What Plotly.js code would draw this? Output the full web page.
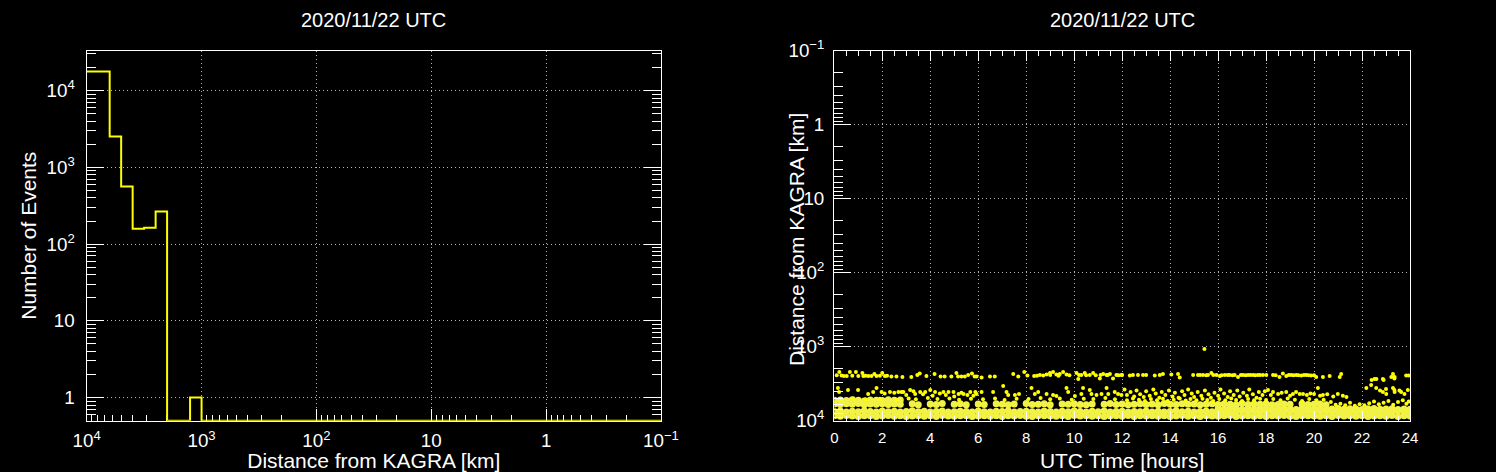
<!DOCTYPE html>
<html><head><meta charset="utf-8">
<script src="https://cdn.plot.ly/plotly-3.0.1.min.js"></script>
<style>html,body{margin:0;padding:0;background:#000;}#chart{width:1496px;height:472px;}</style>
</head><body><div id="chart"></div>
<script>
const titleText = '2020/11/22 UTC';
const histXTitle = 'Distance from KAGRA [km]';
const histYTitle = 'Number of Events';
const scatXTitle = 'UTC Time [hours]';
const scatYTitle = 'Distance from KAGRA [km]';

// ---- Histogram (left): bin edges in log10(km), counts per bin ----
const binEdgesLog10 = [4.0,3.9,3.8,3.7,3.6,3.5,3.4,3.3,3.2,3.1,3.0,2.9,2.8,2.7,2.6,2.5,2.4,2.3,2.2,2.1,2.0,
  1.9,1.8,1.7,1.6,1.5,1.4,1.3,1.2,1.1,1.0,0.9,0.8,0.7,0.6,0.5,0.4,0.3,0.2,0.1,0.0,
  -0.1,-0.2,-0.3,-0.4,-0.5,-0.6,-0.7,-0.8,-0.9,-1.0];
const binCounts = [17700,17700,2520,562,158,163,265,0,0,1,
  0,0,0,0,0,0,0,0,0,0,
  0,0,0,0,0,0,0,0,0,0,
  0,0,0,0,0,0,0,0,0,0,
  0,0,0,0,0,0,0,0,0,0];

// ---- Scatter (right): UTC hour vs distance [km] ----
const denseHours = [0,0.25,0.5,0.75,1,1.25,1.5,1.75,2,2.25,
  2.5,2.75,3,3.25,3.5,3.75,4,4.25,4.5,4.75,
  5,5.25,5.5,5.75,6,6.25,6.5,6.75,7,7.25,
  7.5,7.75,8,8.25,8.5,8.75,9,9.25,9.5,9.75,
  10,10.25,10.5,10.75,11,11.25,11.5,11.75,12,12.25,
  12.5,12.75,13,13.25,13.5,13.75,14,14.25,14.5,14.75,
  15,15.25,15.5,15.75,16,16.25,16.5,16.75,17,17.25,
  17.5,17.75,18,18.25,18.5,18.75,19,19.25,19.5,19.75,
  20,20.25,20.5,20.75,21,21.25,21.5,21.75,22,22.25,
  22.5,22.75,23,23.25,23.5,23.75,24];
const denseKmA = [8600,8700,8500,8650,8800,8550,8600,8750,8650,8500,
  8700,8600,8800,8650,8550,8700,8600,8750,8500,8650,
  8700,8600,8550,8800,8650,8600,8700,8550,8750,8600,
  8650,8500,8700,8800,8600,8550,8650,8700,8600,8750,
  8500,8650,8600,8700,8550,8800,8650,8600,8700,8500,
  8750,8600,8650,8550,8700,8600,8800,8650,8500,8700,
  8600,8750,8550,8650,8700,8600,8500,8800,8650,8600,
  8700,8550,8750,8600,8650,8500,8700,8800,8600,8550,
  8650,8700,8600,8750,8500,8650,8600,8700,8550,8800,
  8650,8600,8700,8500,8750,8600,8650];
const denseKmB = [7500,7400,7600,7450,7550,7350,7500,7650,7400,7550,
  7450,7600,7500,7350,7550,7450,7650,7500,7400,7600,
  7550,7450,7500,7600,7400,7550,7650,7450,7500,7350,
  7600,7500,7450,7550,7650,7400,7500,7600,7450,7550,
  7350,7500,7600,7450,7550,7400,7650,7500,7450,7600,
  7500,7550,7400,7600,7450,7650,7500,7350,7550,7450,
  7600,7500,7400,7550,7650,7450,7500,7600,7350,7550,
  7450,7600,7500,7400,7550,7650,7450,7500,7600,7400,
  7550,7500,7350,7600,7450,7550,7650,7500,7400,7600,
  7500,7450,7550,7600,7400,7500,7550];
const denseKmC = [5950,6050,5900,6000,5850,6100,5950,6000,5900,6050,
  5950,6000,null,5900,6100,null,5950,6050,5850,null,
  6000,5900,6100,null,5950,6050,null,5900,6000,6100,
  5950,null,5850,6050,6000,5900,6100,null,5950,6000,
  5900,6050,6100,5950,null,6000,5850,6050,5950,6100,
  6000,5900,6050,5950,6100,5850,6000,6050,5900,6000,
  5950,6100,6000,5900,6050,5950,6000,6100,5850,6050,
  5950,6000,5900,6100,6050,5950,6000,null,5900,6050,
  6000,5950,6100,null,null,null,null,null,null,null,
  null,null,null,null,null,null,null];
const gapRowHours = [16,16.25,16.5,16.75,17,17.25,17.5,17.75,18,18.25,18.5,18.75,19,19.25,19.5,19.75,
  20,20.25,20.5,20.75,21,21.25,21.5,21.75,22,22.25,22.5,22.75,23,23.25,23.5,23.75,24];
const gapRowKm = [6900,7000,6850,6950,7050,6900,7000,6950,6850,7050,6950,6900,7000,7050,6850,6950,
  7000,6900,7050,6950,6850,7000,6900,6950,7050,6900,6850,7000,6950,6900,7050,6950,7000];
const earlyRowHours = [0,0.25,0.5,0.75,1,1.25,1.5,1.75,2,2.25,2.5,2.75];
const earlyRowKm = [5300,5250,5350,5200,5300,5400,5250,5300,5350,5200,5300,5250];

const upperBand = [[0.1,2430],[0.21,2200],[0.3,2450],[0.4,2480],[0.52,2490],[0.65,2200],[0.75,2470],[0.9,2200],[1.0,2480],[1.17,2270],[1.21,2490],[1.3,2460],[1.42,2490],[1.55,2480],[1.67,2340],[1.76,2490],[1.9,2470],[2.0,2270],[2.11,2490],[2.2,2460],[2.38,2530],[2.59,2530],[2.84,2565],[3.21,2565],[3.46,2410],[3.56,2300],[3.84,2490],[4.18,2340],[4.43,2530],[4.6,2530],[4.88,2530],[5.09,2270],[5.16,2530],[5.3,2530],[5.44,2530],[5.58,2410],[5.74,2300],[5.85,2530],
  [5.93,2530],[6.14,2600],[6.49,2530],[6.69,2530],[7.46,2340],[7.67,2530],[7.92,2200],[8.05,2450],[8.33,2490],[8.45,2470],[8.57,2410],[8.71,2450],[8.85,2380],[8.99,2270],[9.0,2420],[9.12,2200],[9.26,2380],[9.35,2460],[9.4,2340],[9.54,2200],[9.68,2380],[9.8,2430],[10.1,2270],[10.17,2740],[10.2,2420],[10.3,2410],[10.44,2270],[10.5,2430],[10.65,2410],[10.79,2270],[10.9,2430],[11.07,2700],[11.1,2420],[11.21,2340],[11.35,2410],[11.4,2420],[11.49,2340],[11.62,2700],[11.76,2410],[11.85,2430],[11.97,2410],
  [12.0,2410],[12.32,2450],[12.45,2410],[12.66,2410],[12.87,2410],[13.0,2410],[13.36,2450],[13.57,2410],[13.7,2340],[14.05,2380],[14.33,2340],[14.4,2600],[14.96,2410],[15.16,2410],[15.25,2420],[15.37,2410],[15.5,2430],[15.58,2410],[15.72,2270],[15.8,2420],[15.93,2410],[16.07,2490],[16.15,2430],[16.28,2410],[16.4,2420],[16.48,2410],[16.6,2430],[16.69,2410],[16.83,2565],[16.95,2420],[17.04,2410],[17.15,2430],[17.25,2410],[17.35,2420],[17.46,2410],[17.55,2430],[17.66,2410],[17.75,2420],[17.87,2410],[18.01,2410],
  [18.29,2410],[18.4,2430],[18.56,2565],[18.7,2300],[18.84,2490],[18.95,2420],[19.05,2410],[19.15,2440],[19.26,2410],[19.35,2430],[19.47,2450],[19.58,2420],[19.68,2410],[19.78,2440],[19.88,2450],[20.0,2430],[20.09,2565],[20.37,2565],[20.65,2490],[21.07,2565],[21.13,2340],[22.4,2820],[22.52,2740],[22.6,2740],[22.87,2740],[22.9,2820],[23.22,2565],[23.29,2340],[23.35,2680],[23.36,2565],[23.84,2450],[23.94,2450]];

const midBand = [[0.15,3615],[0.2,4095],[0.57,3850],[0.99,3850],[1.41,4360],[1.62,4095],[1.76,3615],[1.97,4095],[2.1,4300],[2.32,4095],[2.5,4200],[2.67,4095],[2.8,4095],[2.88,4095],[3.0,4500],[3.16,3850],[3.3,4000],[3.37,4360],[3.58,4095],[3.7,4400],[3.79,4095],[4.0,3850],[4.1,4600],[4.2,4095],[4.4,4300],[4.55,4095],[4.65,4500],[4.76,4095],[4.97,4095],[5.0,4700],[5.18,4360],[5.3,4200],[5.39,4360],[5.55,4500],[5.67,4095],[5.8,4600],[5.88,4095],
  [5.93,4360],[6.14,4095],[6.62,4095],[7.04,3410],[7.18,4095],[7.25,4500],[7.53,4500],[7.7,4360],[8.22,3615],[8.36,4360],[8.5,4095],[8.85,4360],[9.12,4500],[9.26,4640],[9.68,3615],[9.75,4095],[10.03,4640],[10.3,4360],[10.37,3615],[10.65,3850],[10.72,4360],[10.93,4500],[11.14,4360],[11.35,3615],[11.42,4360],[11.69,4095],[11.83,4360],[11.97,4500],
  [12.1,3800],[12.2,4500],[12.35,4100],[12.5,4700],[12.6,3900],[12.75,4400],[12.9,4800],[13.0,4000],[13.15,4600],[13.3,3800],[13.4,4300],[13.55,4900],[13.65,4100],[13.8,4500],[13.95,3900],[14.1,4700],[14.2,4200],[14.35,4900],[14.5,4000],[14.6,4500],[14.75,3800],[14.9,4300],[15.0,4800],[15.15,4100],[15.3,4600],[15.45,3900],[15.6,4400],[15.7,4900],[15.85,4200],[16.0,4600],[16.1,3800],[16.25,4300],[16.4,4800],[16.5,4000],[16.65,4500],[16.8,3900],[16.9,4700],[17.05,4200],[17.2,4600],[17.3,3800],[17.45,4400],[17.6,4900],[17.7,4100],[17.85,4500],[17.95,4000],
  [18.08,3850],[18.2,4500],[18.29,4095],[18.5,4360],[18.65,4200],[18.84,4095],[19.0,4600],[19.12,4360],[19.25,4100],[19.4,4360],[19.54,4360],[19.7,4500],[19.85,4300],[20.0,4360],[20.16,3615],[20.25,4600],[20.37,4500],[20.55,4400],[20.8,4700],[20.99,4360],[21.2,4600],[21.35,4800],[22.18,3615],[22.38,3300],[22.59,3615],[22.75,3900],[22.87,4095],[23.0,3730],[23.01,4360],[23.29,3615],[23.35,3850],[23.36,4095],[23.56,3900],[23.63,4095],[23.77,4360],[23.91,3850]];

const lowerMidBand = [[0.3,5100],[0.8,5000],[1.3,5150],[1.9,5050],[2.6,5200],[3.1,5000],[3.4,5150],[3.9,4950],[4.3,5100],[4.8,5000],[5.2,5200],[5.7,5050],[6.2,5150],[6.7,5000],[7.1,5250],[7.6,5050],[8.1,5100],[8.6,4950],[9.0,5150],[9.4,5000],[9.9,5200],[10.4,5050],[10.8,5100],[11.3,4950],[11.7,5150],
  [12.2,5300],[12.45,5000],[12.7,5200],[12.95,5400],[13.2,5100],[13.45,5300],[13.7,5050],[13.9,5400],[14.15,5200],[14.4,5000],[14.65,5350],[14.85,5100],[15.1,5300],[15.35,5050],[15.55,5250],[15.8,5400],[16.05,5100],[16.3,5300],[16.55,5000],[16.75,5250],[17.0,5400],[17.25,5100],[17.5,5300],[17.75,5050],
  [18.0,5250],[18.3,5100],[18.6,5300],[18.9,5000],[19.2,5200],[19.5,5400],[19.8,5100],[20.1,5300],[20.4,5200],[20.7,5600],[20.9,6100],[21.1,5900],[21.3,6200],[21.5,5700],[21.7,6300],[21.9,6000],[22.1,6200],[22.3,5800],[22.5,5500],[22.7,6000],[22.9,5700],[23.1,5400],[23.3,6100],[23.5,5600],[23.7,5300],[23.85,5900],[23.95,5500]];

const outlierPoint = [[15.43,1075]];

// ---- build traces ----
const yRangeLeft = [Math.log10(0.5), 4.52];
const yFloor = Math.pow(10, yRangeLeft[0]);
const histX = binEdgesLog10.map(e => Math.pow(10, e));
const histY = binCounts.map(c => (c > 0 ? c : yFloor));
histY.push(histY[histY.length - 1]);

const denseX = [].concat(denseHours, denseHours, denseHours, gapRowHours, earlyRowHours);
const denseY = [].concat(denseKmA, denseKmB, denseKmC, gapRowKm, earlyRowKm);
const sparse = [].concat(upperBand, midBand, lowerMidBand, outlierPoint);

const YELLOW = '#ffff00';
const traces = [
  {type:'scatter', mode:'lines', x:histX, y:histY, xaxis:'x', yaxis:'y',
   line:{shape:'hv', color:YELLOW, width:2}, hoverinfo:'skip'},
  {type:'scatter', mode:'markers', x:denseX, y:denseY, xaxis:'x2', yaxis:'y2',
   marker:{size:7, color:'rgb(242,242,70)'}, hoverinfo:'skip'},
  {type:'scatter', mode:'markers', x:sparse.map(p=>p[0]), y:sparse.map(p=>p[1]), xaxis:'x2', yaxis:'y2',
   marker:{size:4, color:YELLOW}, hoverinfo:'skip'}
];

const FONT = 'Liberation Sans, Arial, Helvetica, sans-serif';
const TICKFONT = {family:FONT, size:15, color:'#fff'};
const W = 1496, H = 472;
const left = {x0:86.7, x1:661}, right = {x0:834.3, x1:1410};
const yDom = [1 - 420.7/H, 1 - 50.7/H];
const GRID = {showgrid:true, gridcolor:'#b4b4b4', griddash:'1px,3px', gridwidth:1, zeroline:false};
const LINE = {showline:true, linecolor:'#fff', linewidth:1, tickcolor:'#fff', ticks:'inside'};

const layout = {
  width:W, height:H, paper_bgcolor:'#000', plot_bgcolor:'#000',
  margin:{l:0,r:0,t:0,b:0}, showlegend:false,
  font:{family:FONT, color:'#fff', size:15},
  xaxis:Object.assign({}, GRID, LINE, {
    domain:[left.x0/W, left.x1/W], anchor:'y', type:'log', range:[4,-1],
    mirror:true, ticklen:12, tickmode:'linear', tick0:0, dtick:1, exponentformat:'power',
    minor:{ticks:'inside', ticklen:6, tickcolor:'#fff', dtick:'D1', showgrid:false},
    tickfont:TICKFONT, ticklabelstandoff:4, layer:'below traces',
    title:{text:histXTitle, font:{size:21, color:'#fff'}, standoff:8}}),
  yaxis:Object.assign({}, GRID, LINE, {
    domain:yDom, anchor:'x', type:'log', range:yRangeLeft,
    mirror:'ticks', ticklen:17, tickmode:'linear', tick0:0, dtick:1, exponentformat:'power',
    minor:{ticks:'inside', ticklen:9, tickcolor:'#fff', dtick:'D1', showgrid:false},
    tickfont:TICKFONT, ticklabelstandoff:8,
    title:{text:histYTitle, font:{size:21, color:'#fff'}, standoff:4}}),
  xaxis2:Object.assign({}, GRID, LINE, {
    domain:[right.x0/W, right.x1/W], anchor:'y2', range:[0,24],
    mirror:'ticks', ticklen:10, tickmode:'linear', tick0:0, dtick:2,
    minor:{ticks:'inside', ticklen:5, tickcolor:'#fff', dtick:0.5, showgrid:false},
    tickfont:TICKFONT, ticklabelstandoff:3,
    title:{text:scatXTitle, font:{size:21, color:'#fff'}, standoff:8}}),
  yaxis2:Object.assign({}, GRID, LINE, {
    domain:yDom, anchor:'x2', type:'log', range:[4,-1],
    mirror:true, ticklen:17, tickmode:'linear', tick0:0, dtick:1, exponentformat:'power',
    minor:{ticks:'inside', ticklen:9, tickcolor:'#fff', dtick:'D1', showgrid:false},
    tickfont:TICKFONT, ticklabelstandoff:6}),
  annotations:[
    {text:titleText, xref:'paper', yref:'paper', x:(left.x0+left.x1)/2/W, y:1-20/H,
     xanchor:'center', yanchor:'middle', showarrow:false, font:{size:20, color:'#fff'}},
    {text:titleText, xref:'paper', yref:'paper', x:(right.x0+right.x1)/2/W, y:1-20/H,
     xanchor:'center', yanchor:'middle', showarrow:false, font:{size:20, color:'#fff'}},
    {text:scatYTitle, xref:'paper', yref:'paper', x:796/W, y:1-240/H, textangle:-90,
     xanchor:'center', yanchor:'middle', showarrow:false, font:{size:21, color:'#fff'}}
  ]
};

Plotly.newPlot('chart', traces, layout, {displayModeBar:false, staticPlot:true});
</script></body></html>
